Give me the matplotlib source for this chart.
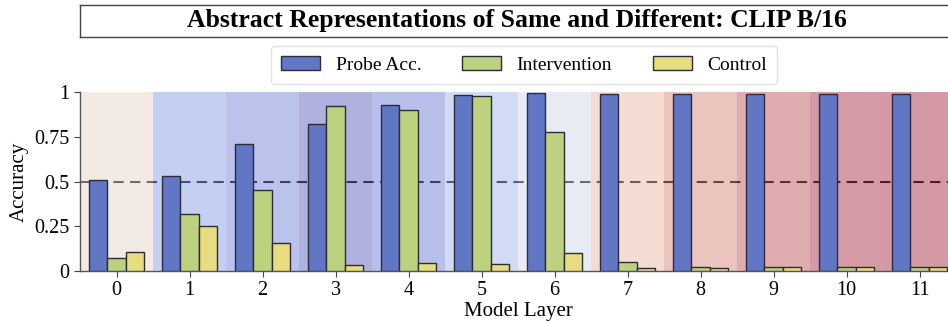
import numpy as np
import matplotlib
matplotlib.use("Agg")
import matplotlib.pyplot as plt
from matplotlib.colors import to_rgb

plt.rcParams["font.family"] = "serif"
plt.rcParams["font.serif"] = ["Liberation Serif", "DejaVu Serif"]

layers = list(range(12))
probe_acc = [0.51, 0.53, 0.71, 0.82, 0.925, 0.985, 0.993, 0.99, 0.99, 0.99, 0.99, 0.99]
intervention = [0.07, 0.32, 0.45, 0.92, 0.90, 0.98, 0.775, 0.05, 0.02, 0.02, 0.02, 0.02]
control = [0.105, 0.25, 0.155, 0.035, 0.045, 0.04, 0.10, 0.017, 0.017, 0.02, 0.02, 0.02]

# per-layer shading, as seen over white
layer_shade = ["#f3ebe4", "#c5d1f2", "#bcc3ec", "#b0b2e0", "#b9c0ec", "#d3dcf6",
               "#e9ecf5", "#f5ddd4", "#edc5bf", "#e0adb0", "#d59ba6", "#d69aa6"]

W, H = 948, 323
fig = plt.figure(figsize=(W / 100, H / 100), dpi=100)

# title in a framed box
tax = fig.add_axes([80 / W, 1 - 37 / H, 880 / W, 32 / H])
tax.set_xticks([])
tax.set_yticks([])
for s in tax.spines.values():
    s.set_color("#444444")
    s.set_linewidth(1.0)
tax.text(0.497, 0.5, "Abstract Representations of Same and Different: CLIP B/16",
         ha="center", va="center", fontsize=18.5, fontweight="bold",
         transform=tax.transAxes)

ax = fig.add_axes([80 / W, 1 - 271 / H, 876 / W, 179 / H])

x = np.array(layers)
ax.axhline(0.5, color="black", ls=(0, (5, 3)), lw=1.5, zorder=1)

# translucent spans over the dashed line, so it takes on the layer tint
alpha = 0.5
for i, c in zip(layers, layer_shade):
    rgb = np.array(to_rgb(c))
    base = np.clip((rgb - (1 - alpha)) / alpha, 0, 1)
    ax.axvspan(i - 0.5, i + 0.5, color=base, alpha=alpha, lw=0, zorder=2)

w = 0.25
ek = dict(edgecolor="#2b2b3a", linewidth=1.0, zorder=3)
ax.bar(x - w, probe_acc, w, color="#6177c6", label="Probe Acc.", **ek)
ax.bar(x, intervention, w, color="#bcd27e", label="Intervention", **ek)
ax.bar(x + w, control, w, color="#e8dc80", label="Control", **ek)

ax.set_xlim(-0.5, 11.5)
ax.set_ylim(0, 1)
ax.set_xticks(layers)
ax.set_yticks([0, 0.25, 0.5, 0.75, 1])
ax.set_yticklabels(["0", "0.25", "0.5", "0.75", "1"])
ax.tick_params(labelsize=14.5, length=4, color="#444444")
ax.set_xlabel("Model Layer", fontsize=15, labelpad=1)
ax.set_ylabel("Accuracy", fontsize=15, labelpad=4)
for s in ["top", "right"]:
    ax.spines[s].set_visible(False)
for s in ["left", "bottom"]:
    ax.spines[s].set_color("#555555")
    ax.spines[s].set_linewidth(1.0)

leg = fig.legend(loc="center", bbox_to_anchor=(524 / W, 1 - 65 / H), ncol=3,
                 fontsize=14, frameon=True, fancybox=True,
                 handlelength=2.0, handleheight=0.75, columnspacing=2.1,
                 handletextpad=0.8, borderpad=0.5)
leg.get_frame().set_edgecolor("#dddddd")
leg.get_frame().set_linewidth(1.0)

fig.savefig("out.png", dpi=100)
